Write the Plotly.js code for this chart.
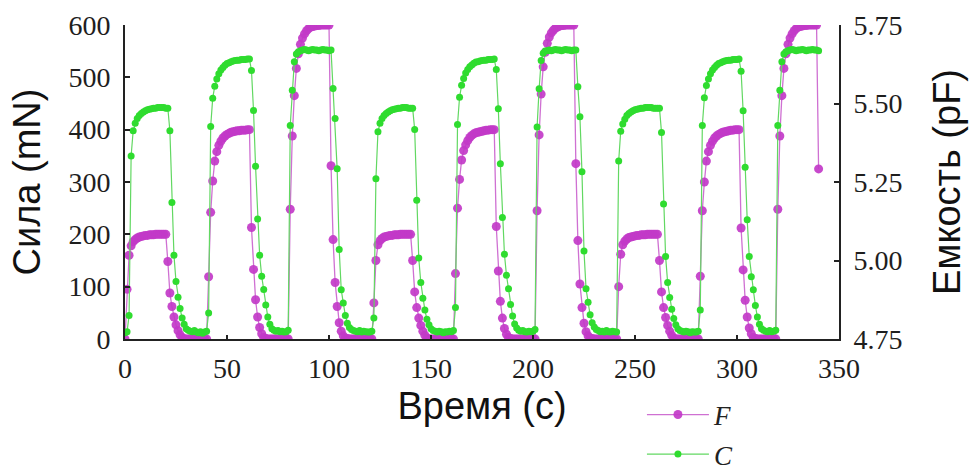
<!DOCTYPE html>
<html>
<head>
<meta charset="utf-8">
<script src="https://cdn.plot.ly/plotly-3.0.1.min.js"></script>
<style>
html,body{margin:0;padding:0;background:#ffffff;}
#chart{width:980px;height:470px;}
</style>
</head>
<body>
<div id="chart"></div>
<script>
// Sampling of both series (seconds)
const timeStart = 0;
const timeStep = 1;

// Force F, mN (one value per second, t = 0 .. 340)
const force = [
  0, 95, 160, 178, 186, 190, 193, 195, 196, 197, 198, 198, 199, 199, 199, 200, 200, 200, 200, 200, 200, 148, 88, 62, 42, 27, 16, 8, 3, 0, 0, 0, 0, 0, 0, 0, 0, 0, 0, 0,
  0, 119, 242, 302, 340, 358, 370, 378, 384, 388, 391, 393, 395, 396, 397, 398, 398, 399, 399, 399, 400, 400, 213, 133, 75, 42, 22, 10, 3, 1, 0, 0, 0, 0, 0, 0, 0, 0, 0, 0,
  0, 248, 388, 465, 517, 545, 563, 575, 583, 589, 593, 596, 597, 598, 599, 599, 600, 600, 600, 600, 600, 331, 190, 108, 62, 31, 15, 6, 2, 1, 0, 0, 0, 0, 0, 0, 0, 0, 0, 0,
  0, 0, 69, 150, 180, 188, 192, 195, 196, 197, 198, 198, 199, 199, 199, 200, 200, 200, 200, 200, 200, 150, 90, 60, 40, 26, 15, 7, 2, 0, 0, 0, 0, 0, 0, 0, 0, 0, 0, 0,
  0, 0, 125, 250, 305, 342, 360, 371, 379, 385, 389, 392, 394, 395, 396, 397, 398, 399, 399, 400, 400, 400, 215, 130, 72, 40, 20, 9, 3, 1, 0, 0, 0, 0, 0, 0, 0, 0, 0, 0,
  0, 0, 245, 390, 468, 520, 548, 565, 577, 585, 590, 594, 596, 598, 599, 599, 600, 600, 600, 600, 600, 335, 188, 105, 60, 30, 14, 6, 2, 1, 0, 0, 0, 0, 0, 0, 0, 0, 0, 0,
  0, 0, 100, 162, 180, 187, 191, 194, 195, 196, 197, 198, 198, 199, 199, 199, 200, 200, 200, 200, 200, 200, 150, 90, 60, 41, 26, 15, 7, 2, 0, 0, 0, 0, 0, 0, 0, 0, 0, 0,
  0, 0, 120, 245, 300, 340, 358, 370, 378, 384, 388, 391, 393, 395, 396, 397, 398, 399, 399, 400, 400, 400, 212, 132, 74, 42, 21, 10, 3, 1, 0, 0, 0, 0, 0, 0, 0, 0, 0, 0,
  248, 388, 465, 517, 545, 563, 575, 583, 589, 593, 596, 597, 598, 599, 599, 600, 600, 600, 600, 600, 325
];

// Capacitance C, pF (one value per second, t = 0 .. 340)
const capacitance = [
  4.770, 4.773, 4.825, 5.333, 5.413, 5.437, 5.452, 5.462, 5.468, 5.473, 5.477, 5.480, 5.482, 5.483, 5.485, 5.485, 5.487, 5.487, 5.487, 5.487, 5.485, 5.485, 5.413, 5.185, 5.017, 4.933, 4.883, 4.847, 4.817, 4.797, 4.783, 4.778, 4.775, 4.773, 4.777, 4.772, 4.770, 4.773, 4.768, 4.772,
  4.775, 4.833, 5.427, 5.517, 5.555, 5.578, 5.595, 5.607, 5.615, 5.622, 5.627, 5.630, 5.633, 5.635, 5.637, 5.638, 5.638, 5.640, 5.640, 5.640, 5.642, 5.642, 5.605, 5.478, 5.300, 5.132, 5.017, 4.950, 4.908, 4.858, 4.820, 4.797, 4.783, 4.778, 4.775, 4.777, 4.773, 4.775, 4.772, 4.773,
  4.778, 5.430, 5.542, 5.633, 5.658, 5.665, 5.668, 5.670, 5.672, 5.670, 5.668, 5.670, 5.672, 5.670, 5.670, 5.668, 5.670, 5.672, 5.670, 5.670, 5.668, 5.670, 5.548, 5.452, 5.292, 5.035, 4.907, 4.865, 4.825, 4.800, 4.787, 4.780, 4.777, 4.775, 4.773, 4.777, 4.772, 4.775, 4.773, 4.772,
  4.772, 4.775, 4.817, 5.260, 5.410, 5.437, 5.452, 5.462, 5.468, 5.473, 5.477, 5.480, 5.482, 5.483, 5.485, 5.485, 5.487, 5.487, 5.487, 5.485, 5.485, 5.485, 5.417, 5.192, 5.008, 4.930, 4.880, 4.842, 4.813, 4.795, 4.783, 4.777, 4.775, 4.772, 4.775, 4.773, 4.770, 4.773, 4.772, 4.775,
  4.773, 4.777, 4.850, 5.433, 5.520, 5.558, 5.580, 5.597, 5.608, 5.617, 5.623, 5.628, 5.632, 5.633, 5.635, 5.637, 5.638, 5.638, 5.640, 5.640, 5.640, 5.642, 5.608, 5.483, 5.308, 5.137, 5.020, 4.953, 4.910, 4.860, 4.823, 4.798, 4.785, 4.778, 4.775, 4.777, 4.773, 4.772, 4.775, 4.773,
  4.775, 4.780, 5.425, 5.547, 5.637, 5.660, 5.667, 5.668, 5.670, 5.668, 5.670, 5.672, 5.670, 5.670, 5.668, 5.670, 5.672, 5.670, 5.670, 5.668, 5.670, 5.670, 5.553, 5.458, 5.283, 5.030, 4.910, 4.867, 4.827, 4.802, 4.788, 4.780, 4.777, 4.773, 4.775, 4.772, 4.777, 4.773, 4.772, 4.775,
  4.773, 4.772, 5.317, 5.412, 5.435, 5.450, 5.462, 5.468, 5.473, 5.477, 5.480, 5.482, 5.483, 5.485, 5.485, 5.487, 5.487, 5.487, 5.487, 5.485, 5.485, 5.485, 5.485, 5.408, 5.180, 5.013, 4.930, 4.882, 4.845, 4.815, 4.795, 4.783, 4.777, 4.775, 4.772, 4.775, 4.773, 4.770, 4.773, 4.772,
  4.772, 4.775, 4.842, 5.430, 5.518, 5.557, 5.578, 5.595, 5.607, 5.615, 5.622, 5.627, 5.630, 5.633, 5.635, 5.637, 5.638, 5.638, 5.640, 5.640, 5.640, 5.642, 5.603, 5.477, 5.297, 5.130, 5.013, 4.948, 4.907, 4.857, 4.820, 4.797, 4.783, 4.778, 4.775, 4.773, 4.777, 4.773, 4.775, 4.778,
  5.430, 5.542, 5.633, 5.658, 5.665, 5.668, 5.670, 5.672, 5.670, 5.668, 5.670, 5.670, 5.672, 5.670, 5.668, 5.670, 5.670, 5.672, 5.670, 5.670, 5.668
];

const seriesNames = ['<i>F</i>', '<i>C</i>'];
const timeTicks = [0, 50, 100, 150, 200, 250, 300, 350];
const forceTicks = [0, 100, 200, 300, 400, 500, 600];
const capTicks = [4.75, 5.00, 5.25, 5.50, 5.75];
const capTickText = ['4.75', '5.00', '5.25', '5.50', '5.75'];
const xTitle = 'Время (с)';
const yTitle = 'Сила (mN)';
const y2Title = 'Емкость (pF)';

const magenta = '#c23ac8';
const green = '#2fdc2f';

const traceF = {
  type: 'scatter', mode: 'lines+markers', name: seriesNames[0],
  x0: timeStart, dx: timeStep, y: force,
  line: {color: '#cf70d2', width: 1.3},
  marker: {color: magenta, size: 9, symbol: 'circle', opacity: 0.92},
  legend: 'legend'
};
const traceC = {
  type: 'scatter', mode: 'lines+markers', name: seriesNames[1],
  x0: timeStart, dx: timeStep, y: capacitance, yaxis: 'y2',
  line: {color: '#62d862', width: 1.2},
  marker: {color: green, size: 7, symbol: 'circle'},
  legend: 'legend2'
};

const tickFont = {family: 'Liberation Serif', size: 28, color: '#1e1e1e'};
const titleFont = {family: 'Liberation Sans', size: 38, color: '#111'};
const legendFont = {family: 'Liberation Serif', size: 27, color: '#222'};

const layout = {
  width: 980, height: 470,
  margin: {l: 125, r: 141, t: 25, b: 131, autoexpand: false},
  paper_bgcolor: '#ffffff', plot_bgcolor: '#ffffff',
  showlegend: true,
  xaxis: {
    range: [0, 350], tickvals: timeTicks, ticks: 'inside', ticklen: 4, tickwidth: 2, tickcolor: '#222',
    showline: true, linecolor: '#222', linewidth: 2, mirror: false, showgrid: false, zeroline: false,
    tickfont: tickFont, ticklabelstandoff: 3,
    title: {text: xTitle, font: titleFont, standoff: 10}
  },
  yaxis: {
    range: [0, 600], tickvals: forceTicks, ticks: 'inside', ticklen: 5, tickwidth: 2, tickcolor: '#222',
    showline: true, linecolor: '#222', linewidth: 2, showgrid: false, zeroline: false,
    tickfont: tickFont, ticklabelstandoff: 7,
    title: {text: yTitle, font: titleFont, standoff: 16}
  },
  yaxis2: {
    range: [4.75, 5.75], overlaying: 'y', side: 'right', tickvals: capTicks, ticktext: capTickText,
    ticks: 'inside', ticklen: 5, tickwidth: 2, tickcolor: '#222',
    showline: true, linecolor: '#222', linewidth: 2, showgrid: false, zeroline: false,
    tickfont: tickFont, ticklabelstandoff: 7,
    title: {text: y2Title, font: titleFont, standoff: 32}
  },
  legend: {
    x: 0.724, y: -0.242, xanchor: 'left', yanchor: 'middle',
    font: legendFont, bgcolor: 'rgba(0,0,0,0)', itemwidth: 62
  },
  legend2: {
    x: 0.724, y: -0.368, xanchor: 'left', yanchor: 'middle',
    font: legendFont, bgcolor: 'rgba(0,0,0,0)', itemwidth: 62
  }
};

Plotly.newPlot('chart', [traceF, traceC], layout, {staticPlot: true, displayModeBar: false});
</script>
</body>
</html>
